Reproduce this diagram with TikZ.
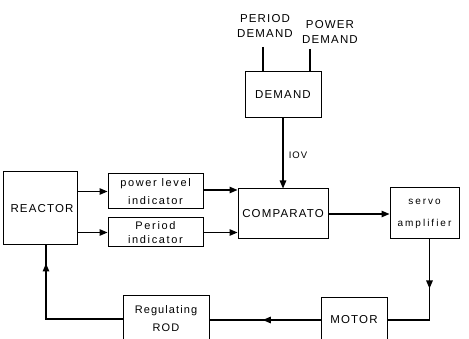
\documentclass[tikz,border=0pt]{standalone}
\usepackage{fontspec}
\setmainfont{Liberation Sans}
\newfontfamily\capsf[LetterSpace=10]{Liberation Sans}
\newfontfamily\lowsf[LetterSpace=15]{Liberation Sans}
\newfontfamily\widesf[LetterSpace=20]{Liberation Sans}
\usetikzlibrary{arrows.meta,decorations.markings}
\tikzset{
  blk/.style={draw, line width=1pt, inner sep=0pt, align=center},
  capt/.style={font=\capsf\fontsize{11.5}{15}\selectfont},
  lowt/.style={font=\lowsf\fontsize{11}{18}\selectfont},
  conn/.style={line width=1.3pt},
  arr/.style={conn, -{Triangle[length=8pt,width=6.5pt]}},
  midarr/.style={conn, decoration={markings, mark=at position #1 with {\arrow{Triangle[length=8pt,width=6.5pt]}}}, postaction=decorate}
}
\begin{document}
\begin{tikzpicture}[x=1pt,y=-1pt]
\useasboundingbox (0,0) rectangle (469,339);
\clip (0,0) rectangle (469,339);
% blocks
\node[blk, capt, minimum width=74pt, minimum height=73pt] (rea) at (40,208.5) {\hspace*{4pt}REACTOR};
\node[blk, lowt, minimum width=95pt, minimum height=35pt] (pl) at (155.5,191.5) {power level\\indicator};
\node[blk, lowt, minimum width=95pt, minimum height=29pt, font=\lowsf\fontsize{11}{14}\selectfont] (pi) at (155.5,232.5) {Period\\indicator};
\node[blk, capt, minimum width=90pt, minimum height=50pt] (cmp) at (283,214) {COMPARATO};
\node[blk, minimum width=69pt, minimum height=51pt, font=\widesf\fontsize{10}{22}\selectfont] (srv) at (424.5,213.5) {servo\\amplifier};
\node[blk, capt, minimum width=76pt, minimum height=46pt] (dem) at (283,95) {DEMAND};
\node[blk, capt, minimum width=66pt, minimum height=44pt] (mot) at (354,320) {MOTOR};
\node[blk, capt, minimum width=86pt, minimum height=46pt, font=\capsf\fontsize{11}{18}\selectfont] (rod) at (166,319) {Regulating\\ROD};
% labels
\node[capt, align=center, inner sep=0pt] (pdlab) at (265,26) {PERIOD\\DEMAND};
\node[capt, align=center, inner sep=0pt] (pwlab) at (330,32) {POWER\\DEMAND};
\node[font=\capsf\fontsize{9.5}{11}\selectfont, inner sep=0pt] (iov) at (298,155) {IOV};
\coordinate (pdin) at (263,47);
\coordinate (pwin) at (310,49);
% connectors
\draw[conn] (pdin) -- (pdin |- dem.north);
\draw[conn] (pwin) -- (pwin |- dem.north);
\draw[arr] (dem.south) -- (dem.south |- cmp.north);
\draw[arr] (rea.east |- pl.west) -- (pl.west);
\draw[arr] (rea.east |- pi.west) -- (pi.west);
\draw[arr] ([yshift=1.5pt]pl.east) -- ([yshift=1.5pt]pl.east -| cmp.west);
\draw[arr] (pi.east) -- (pi.east -| cmp.west);
\draw[arr] (cmp.east) -- (cmp.east -| srv.west);
\draw[midarr=0.4] ([xshift=5pt]srv.south) |- (mot.east);
\draw[midarr=0.52] (mot.west) -- (mot.west -| rod.east);
\draw[midarr=0.88] (rod.west) -| ([xshift=6pt]rea.south);
\end{tikzpicture}
\end{document}
